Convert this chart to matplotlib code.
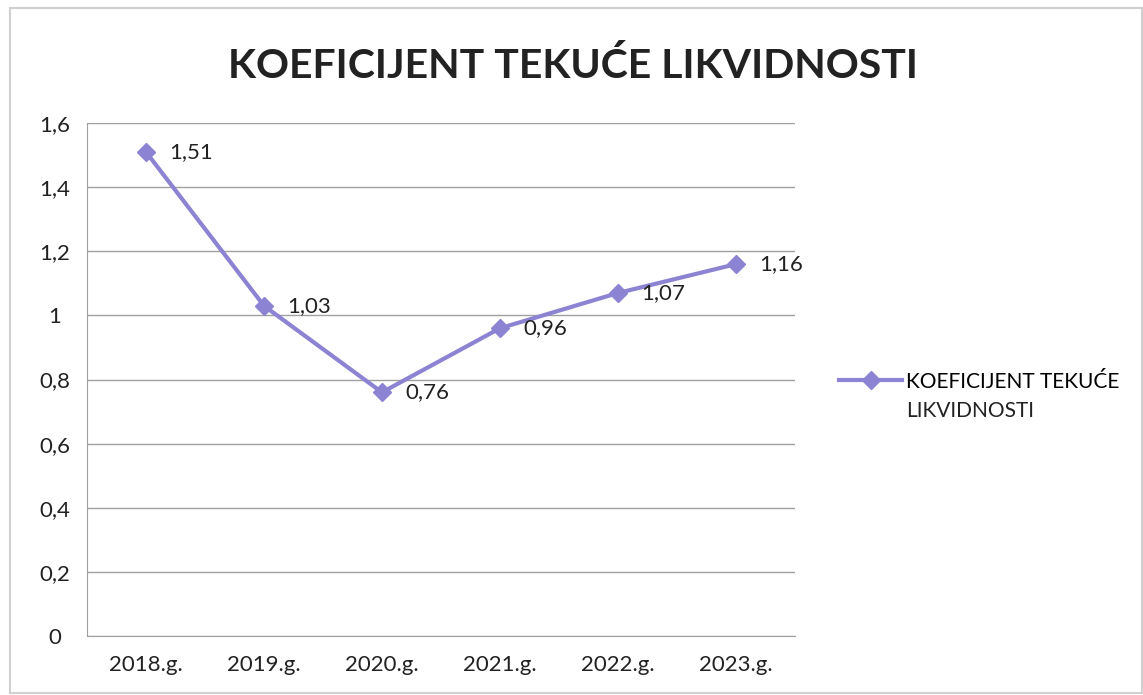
import matplotlib.pyplot as plt
from matplotlib.patches import Rectangle

plt.rcParams['font.family'] = ['Lato', 'DejaVu Sans']

years = ["2018.g.", "2019.g.", "2020.g.", "2021.g.", "2022.g.", "2023.g."]
koef = [1.51, 1.03, 0.76, 0.96, 1.07, 1.16]
labels = ["1,51", "1,03", "0,76", "0,96", "1,07", "1,16"]
yticks = [0, 0.2, 0.4, 0.6, 0.8, 1.0, 1.2, 1.4, 1.6]
ytick_labels = ["0", "0,2", "0,4", "0,6", "0,8", "1", "1,2", "1,4", "1,6"]
series_name = ["KOEFICIJENT TEKUĆE", "LIKVIDNOSTI"]

color = "#8c84d2"

fig = plt.figure(figsize=(11.43, 6.95), dpi=100)
ax = fig.add_axes([0.0761, 0.0849, 0.6194, 0.738])

x = range(len(years))
ax.plot(x, koef, color=color, lw=3, marker="D", markersize=9,
        label=series_name[0])
for i, (v, t) in enumerate(zip(koef, labels)):
    ax.annotate(t, (i, v), xytext=(17, 0), textcoords="offset points",
                va="center", ha="left", fontsize=16, color="#222222")

ax.set_xlim(-0.5, len(years) - 0.5)
ax.set_ylim(0, 1.6)
ax.set_xticks(list(x))
ax.set_xticklabels(years)
ax.set_yticks(yticks)
ax.set_yticklabels(ytick_labels)
ax.tick_params(length=0, labelsize=16, colors="#222222")
ax.tick_params(axis="x", pad=14)
for lab in ax.get_yticklabels():
    lab.set_horizontalalignment("center")
ax.tick_params(axis="y", pad=23)
ax.grid(axis="y", color="#a0a0a0", lw=1)
ax.set_axisbelow(True)
for s in ["top", "right"]:
    ax.spines[s].set_visible(False)
for s in ["left", "bottom"]:
    ax.spines[s].set_color("#a0a0a0")

fig.text(0.501, 0.905, "KOEFICIJENT TEKUĆE LIKVIDNOSTI", ha="center",
         va="center", fontsize=29.5, fontweight="bold", color="#222222")

leg = fig.legend(loc="center left", bbox_to_anchor=(0.718, 0.451), frameon=False,
                 fontsize=15, handlelength=3.0, handletextpad=0.2)

# second line of the legend label, placed under the first one
fig.canvas.draw()
bb = leg.get_texts()[0].get_window_extent().transformed(fig.transFigure.inverted())
fig.text(bb.x0, bb.y0 - 0.043, series_name[1], ha="left", va="bottom",
         fontsize=15, color="#222222")

fig.patches.append(Rectangle((0.009, 0.003), 0.99, 0.985, transform=fig.transFigure,
                             fill=False, edgecolor="#d0d0d0", lw=1.5))

fig.savefig("out.png", dpi=100)
